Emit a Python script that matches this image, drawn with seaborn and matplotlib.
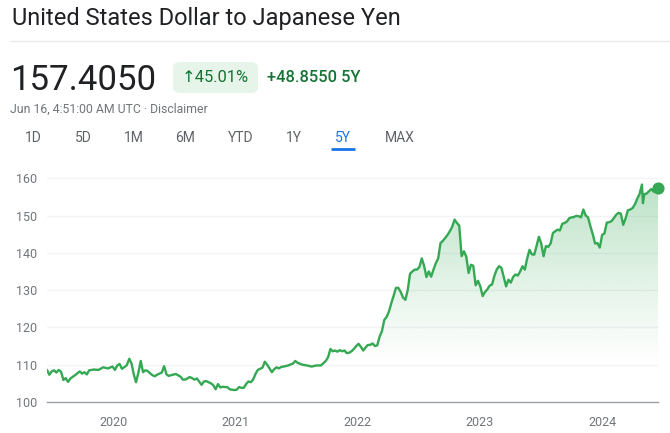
import numpy as np
import pandas as pd
import seaborn as sns
import matplotlib.pyplot as plt
import matplotlib.dates as mdates
from matplotlib.patches import FancyBboxPatch

# weekly USD/JPY closes
dates = [
    "2019-06-17", "2019-06-24", "2019-07-01", "2019-07-08", "2019-07-15", "2019-07-22", "2019-07-29",
    "2019-08-05", "2019-08-12", "2019-08-19", "2019-08-26", "2019-09-09", "2019-09-23", "2019-09-30",
    "2019-10-07", "2019-10-14", "2019-10-21", "2019-11-04", "2019-11-18", "2019-12-02", "2019-12-16",
    "2019-12-30", "2020-01-06", "2020-01-13", "2020-01-20", "2020-01-27", "2020-02-10", "2020-02-18",
    "2020-02-25", "2020-03-02", "2020-03-09", "2020-03-16", "2020-03-23", "2020-03-30", "2020-04-06",
    "2020-04-13", "2020-04-20", "2020-04-27", "2020-05-04", "2020-05-11", "2020-05-18", "2020-05-25",
    "2020-06-01", "2020-06-08", "2020-06-15", "2020-06-22", "2020-07-06", "2020-07-20", "2020-07-27",
    "2020-08-03", "2020-08-17", "2020-08-31", "2020-09-07", "2020-09-21", "2020-09-28", "2020-10-05",
    "2020-10-19", "2020-10-26", "2020-11-02", "2020-11-09", "2020-11-16", "2020-11-23", "2020-11-30",
    "2020-12-07", "2020-12-14", "2020-12-21", "2020-12-28", "2021-01-04", "2021-01-11", "2021-01-18",
    "2021-01-25", "2021-02-01", "2021-02-08", "2021-02-15", "2021-02-22", "2021-03-01", "2021-03-08",
    "2021-03-15", "2021-03-22", "2021-03-29", "2021-04-05", "2021-04-12", "2021-04-19", "2021-04-26",
    "2021-05-03", "2021-05-10", "2021-05-17", "2021-05-24", "2021-06-07", "2021-06-21", "2021-06-28",
    "2021-07-05", "2021-07-19", "2021-08-02", "2021-08-16", "2021-08-30", "2021-09-13", "2021-09-27",
    "2021-10-04", "2021-10-11", "2021-10-18", "2021-10-25", "2021-11-01", "2021-11-08", "2021-11-15",
    "2021-11-22", "2021-11-29", "2021-12-06", "2021-12-13", "2021-12-20", "2021-12-27", "2022-01-03",
    "2022-01-10", "2022-01-17", "2022-01-24", "2022-01-31", "2022-02-07", "2022-02-14", "2022-02-21",
    "2022-02-28", "2022-03-07", "2022-03-14", "2022-03-21", "2022-03-28", "2022-04-04", "2022-04-11",
    "2022-04-18", "2022-04-25", "2022-05-02", "2022-05-09", "2022-05-16", "2022-05-23", "2022-05-30",
    "2022-06-06", "2022-06-13", "2022-06-20", "2022-06-27", "2022-07-04", "2022-07-11", "2022-07-18",
    "2022-07-25", "2022-08-01", "2022-08-08", "2022-08-15", "2022-08-22", "2022-08-29", "2022-09-05",
    "2022-09-12", "2022-09-19", "2022-09-26", "2022-10-03", "2022-10-10", "2022-10-17", "2022-10-24",
    "2022-10-31", "2022-11-07", "2022-11-14", "2022-11-21", "2022-11-28", "2022-12-05", "2022-12-12",
    "2022-12-19", "2022-12-26", "2023-01-02", "2023-01-09", "2023-01-16", "2023-01-23", "2023-01-30",
    "2023-02-06", "2023-02-13", "2023-02-20", "2023-02-27", "2023-03-06", "2023-03-13", "2023-03-20",
    "2023-03-27", "2023-04-03", "2023-04-10", "2023-04-17", "2023-04-24", "2023-05-01", "2023-05-08",
    "2023-05-15", "2023-05-22", "2023-05-29", "2023-06-05", "2023-06-12", "2023-06-19", "2023-06-26",
    "2023-07-03", "2023-07-10", "2023-07-17", "2023-07-24", "2023-07-31", "2023-08-07", "2023-08-14",
    "2023-08-21", "2023-08-28", "2023-09-04", "2023-09-11", "2023-09-18", "2023-09-25", "2023-10-02",
    "2023-10-09", "2023-10-16", "2023-10-23", "2023-10-30", "2023-11-06", "2023-11-13", "2023-11-20",
    "2023-11-27", "2023-12-04", "2023-12-11", "2023-12-18", "2023-12-25", "2024-01-01", "2024-01-08",
    "2024-01-15", "2024-01-22", "2024-01-29", "2024-02-05", "2024-02-12", "2024-02-19", "2024-02-26",
    "2024-03-04", "2024-03-11", "2024-03-18", "2024-03-25", "2024-04-01", "2024-04-08", "2024-04-15",
    "2024-04-22", "2024-04-29", "2024-05-02", "2024-05-06", "2024-05-13", "2024-05-20", "2024-05-27",
    "2024-06-03", "2024-06-10", "2024-06-16",
]
rates = [
    108.6, 107.3, 108.2, 108.5, 107.9, 108.6, 108.1,
    105.9, 106.4, 105.4, 106.3, 107.2, 108.2, 107.6,
    108.0, 107.4, 108.5, 108.7, 108.6, 109.3, 109.0,
    109.5, 108.6, 109.8, 110.2, 108.9, 109.8, 111.6,
    110.2, 107.5, 105.3, 107.8, 111.0, 108.0, 108.5,
    108.3, 107.7, 107.2, 106.9, 107.3, 107.6, 107.9,
    109.6, 107.4, 107.0, 107.2, 107.5, 106.8, 106.0,
    106.0, 106.7, 106.0, 106.3, 104.6, 105.5, 105.6,
    105.0, 104.5, 103.4, 104.8, 103.9, 104.1, 104.0,
    104.0, 103.4, 103.3, 103.2, 103.3, 104.0, 103.8,
    103.8, 104.8, 105.5, 105.3, 106.0, 107.5, 108.6,
    108.9, 109.2, 110.8, 110.0, 109.0, 108.0, 108.8,
    109.3, 109.0, 109.4, 109.5, 109.8, 110.3, 111.0,
    110.5, 110.0, 109.8, 109.5, 109.8, 109.8, 111.0,
    112.0, 114.2, 113.6, 113.8, 113.5, 113.9, 113.6,
    113.8, 113.1, 113.2, 113.6, 114.2, 115.0, 115.6,
    114.8, 113.8, 114.6, 115.3, 115.3, 115.7, 115.0,
    115.2, 117.5, 119.0, 122.0, 122.8, 124.3, 126.5,
    128.5, 130.6, 130.6, 129.5, 128.0, 127.4, 130.0,
    134.4, 135.0, 135.5, 135.5, 136.2, 138.5, 136.5,
    133.5, 135.0, 133.6, 135.5, 137.2, 138.5, 142.6,
    143.2, 144.0, 144.8, 145.8, 147.0, 148.9, 148.0,
    147.3, 139.1, 140.4, 139.0, 134.6, 136.8, 136.5,
    131.3, 132.5, 131.0, 128.4, 129.5, 130.2, 131.2,
    131.5, 133.8, 135.5, 136.4, 136.0, 133.5, 131.0,
    132.8, 132.0, 133.5, 134.2, 133.9, 135.0, 136.4,
    135.5, 138.5, 140.8, 139.6, 139.5, 141.8, 144.3,
    142.5, 139.1, 141.8, 141.6, 142.5, 145.3, 145.8,
    146.2, 146.0, 147.8, 148.0, 148.4, 149.3, 149.5,
    149.6, 149.9, 149.8, 149.5, 151.6, 150.0, 149.5,
    147.1, 145.0, 142.5, 142.6, 141.4, 144.8, 145.2,
    148.1, 148.2, 148.5, 149.3, 150.2, 150.7, 150.5,
    147.5, 149.2, 151.4, 151.6, 152.0, 153.0, 154.5,
    155.8, 158.3, 153.3, 155.7, 155.9, 156.5, 157.1,
    156.4, 157.2, 157.4,
]
y_ticks = [100, 110, 120, 130, 140, 150, 160]
year_ticks = ["2020", "2021", "2022", "2023", "2024"]
tabs = ["1D", "5D", "1M", "6M", "YTD", "1Y", "5Y", "MAX"]

df = pd.DataFrame({"date": pd.to_datetime(dates), "rate": rates})

sns.set_style("white")
plt.rcParams["font.family"] = ["Roboto", "DejaVu Sans"]

W, H = 670, 433
fig = plt.figure(figsize=(W / 100, H / 100), dpi=100)

def fx(px):
    return px / W

def fy(py):
    return 1 - py / H

green = "#34a853"
dark_green = "#137333"
grey = "#70757a"

# header
fig.text(fx(12), fy(19), "United States Dollar to Japanese Yen", fontsize=17,
         color="#202124", va="center", ha="left")
fig.add_artist(plt.Line2D([fx(10), fx(670)], [fy(41), fy(41)], color="#e8eaed", lw=1))
fig.text(fx(10), fy(80), "157.4050", fontsize=25, color="#202124", va="center", ha="left")
badge = FancyBboxPatch((fx(173), fy(93)), fx(85), (93 - 62) / H,
                       boxstyle="round,pad=0,rounding_size=0.012",
                       transform=fig.transFigure, facecolor="#e6f4ea", edgecolor="none")
fig.add_artist(badge)
fig.text(fx(215), fy(78), "↑45.01%", fontsize=11.8, color=dark_green, va="center", ha="center")
fig.text(fx(267), fy(78), "+48.8550 5Y", fontsize=11.8, color=dark_green, va="center",
         ha="left", fontweight="medium")
fig.text(fx(10), fy(109), "Jun 16, 4:51:00 AM UTC · Disclaimer", fontsize=8.8, color=grey,
         va="center", ha="left")
tab_x = [33, 83, 134, 185, 241, 294, 343, 400]
for t, x in zip(tabs, tab_x):
    c = "#1a73e8" if t == "5Y" else "#5f6368"
    fig.text(fx(x), fy(138), t, fontsize=10, color=c, va="center", ha="center")
fig.add_artist(plt.Line2D([fx(331), fx(355)], [fy(149), fy(149)], color="#1a73e8", lw=2,
                          solid_capstyle="butt"))

# chart
ax = fig.add_axes([fx(47), fy(402), fx(611), (402 - 170) / H])
sns.lineplot(data=df, x="date", y="rate", ax=ax, color=green, lw=1.7, zorder=3)
ax.set_xlim(df["date"].iloc[0], df["date"].iloc[-1])
ax.set_ylim(100, 162.2)

# vertical gradient fill under the line
xn = mdates.date2num(df["date"])
lev = np.linspace(100, 162.2, 300)
alpha = np.clip((lev - 110) / 50, 0, 1) ** 1.1 * 0.34
rgba = np.zeros((len(lev), 1, 4))
rgba[..., :3] = np.array([52, 168, 83]) / 255
rgba[:, 0, 3] = alpha
im = ax.imshow(rgba, extent=[xn[0], xn[-1], 100, 162.2], origin="lower", aspect="auto", zorder=1)
poly = ax.fill_between(df["date"], df["rate"], 100, color="none", lw=0)
im.set_clip_path(poly.get_paths()[0], transform=ax.transData)

ax.scatter([df["date"].iloc[-1]], [df["rate"].iloc[-1]], s=60, color=green, zorder=4,
           clip_on=False)

ax.set_yticks(y_ticks)
ax.set_xticks(pd.to_datetime([y + "-01-01" for y in year_ticks]))
ax.set_xticklabels(year_ticks)
ax.grid(axis="y", color="#f1f3f4", lw=1)
ax.grid(axis="x", visible=False)
for s in ["top", "right", "left"]:
    ax.spines[s].set_visible(False)
ax.spines["bottom"].set_color("#9aa0a6")
ax.spines["bottom"].set_linewidth(1)
ax.tick_params(axis="y", length=0, pad=7, labelsize=9, labelcolor=grey)
ax.tick_params(axis="x", length=5, width=1.2, color="#70757a", pad=5, labelsize=9,
               labelcolor=grey, direction="out")
ax.set_xlabel("")
ax.set_ylabel("")

fig.savefig("out.png", dpi=100)
